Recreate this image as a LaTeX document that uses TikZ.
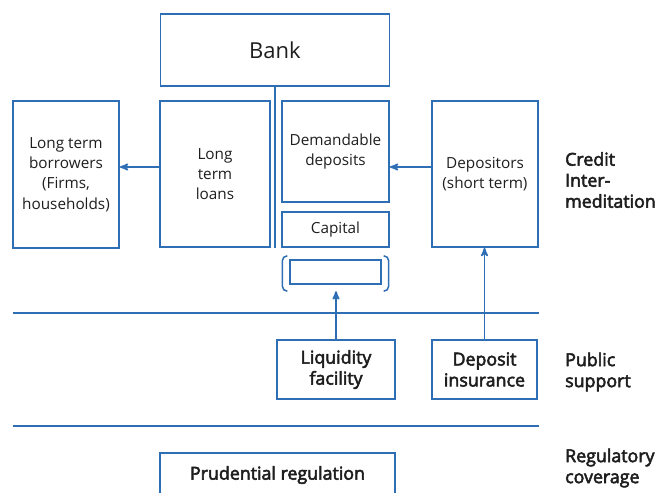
\documentclass[tikz,border=0pt]{standalone}
\usepackage{fontspec}
\setmainfont{Open Sans}
\newfontfamily\semifont[FakeBold=3]{Open Sans}
\usepackage{xcolor}
\usetikzlibrary{arrows}
\definecolor{frameblue}{RGB}{46,110,180}
\definecolor{inktext}{RGB}{30,30,30}

\begin{document}
\begin{tikzpicture}[x=1pt,y=-1pt]
  \tikzstyle{every node}=[text=inktext,font=\fontsize{15.3}{20.3}\selectfont]
  \tikzstyle{box}=[draw=frameblue,line width=1.8pt,align=center,inner sep=0pt]
  \tikzstyle{strong}=[font=\fontsize{17.8}{21}\selectfont\semifont]
  \tikzstyle{flow}=[->,>=stealth',draw=frameblue,line width=1.8pt]
  \tikzstyle{rule}=[draw=frameblue,line width=1.5pt]
  \tikzstyle{side}=[strong,anchor=west,align=left,inner sep=0pt]

  \clip (0,0) rectangle (657,493);

  % bank and its balance sheet
  \node[box,minimum width=229,minimum height=72,font=\fontsize{22}{26}\selectfont] (bank) at (275,50) {Bank};
  \node[box,minimum width=110,minimum height=146] (loans)    at (215,174)   {Long\\term\\loans};
  \node[box,minimum width=107,minimum height=101] (deposits) at (335.5,151.5) {Demandable\\deposits};
  \node[box,minimum width=107,minimum height=35]  (capital)  at (335.5,229.5) {Capital};
  \node[box,minimum width=91,minimum height=24]   (slot)     at (335.5,272) {};
  \node[minimum width=106,minimum height=35,inner sep=0pt] (holder) at (335.5,273.5) {};

  % outside parties
  \node[box,minimum width=106,minimum height=147] (borrowers)  at (66,174.5) {Long term\\borrowers\\(Firms,\\households)};
  \node[box,minimum width=106,minimum height=146] (depositors) at (485,174)  {Depositors\\(short term)};

  % public support
  \node[box,strong,minimum width=118,minimum height=59] (liquidity) at (336,369.5)   {Liquidity\\facility};
  \node[box,strong,minimum width=105,minimum height=59] (insurance) at (484.5,369.5) {Deposit\\insurance};

  % regulation
  \node[box,strong,minimum width=235,minimum height=44] (prudential) at (277.5,475) {Prudential regulation};

  % layer labels
  \node[side] (credit)     at (565,180) {Credit\\Inter-\\meditation};
  \node[side] (public)     at (565,372) {Public\\support};
  \node[side] (regulatory) at (565,468) {Regulatory\\coverage};

  % separators
  \coordinate (sepA) at (13,313);
  \coordinate (sepB) at (13,426);
  \draw[rule] (sepA) -- (sepA -| depositors.east);
  \draw[rule] (sepB) -- (sepB -| depositors.east);

  \draw[rule,line width=1.8pt] (bank.south) -- (bank.south |- loans.south);
  \draw[rule,rounded corners=5pt] ([xshift=5pt]holder.north west) -- (holder.north west)
        -- (holder.south west) -- ([xshift=5pt]holder.south west);
  \draw[rule,rounded corners=5pt] ([xshift=-5pt]holder.north east) -- (holder.north east)
        -- (holder.south east) -- ([xshift=-5pt]holder.south east);

  \draw[flow] ([yshift=7pt]loans.west) -- ([yshift=7pt]loans.west -| borrowers.east);
  \draw[flow] ([yshift=7pt]depositors.west) -- ([yshift=7pt]depositors.west -| deposits.east);
  \draw[flow] (liquidity.north) -- (liquidity.north |- holder.south);
  \draw[flow] (insurance.north) -- (insurance.north |- depositors.south);
\end{tikzpicture}
\end{document}
